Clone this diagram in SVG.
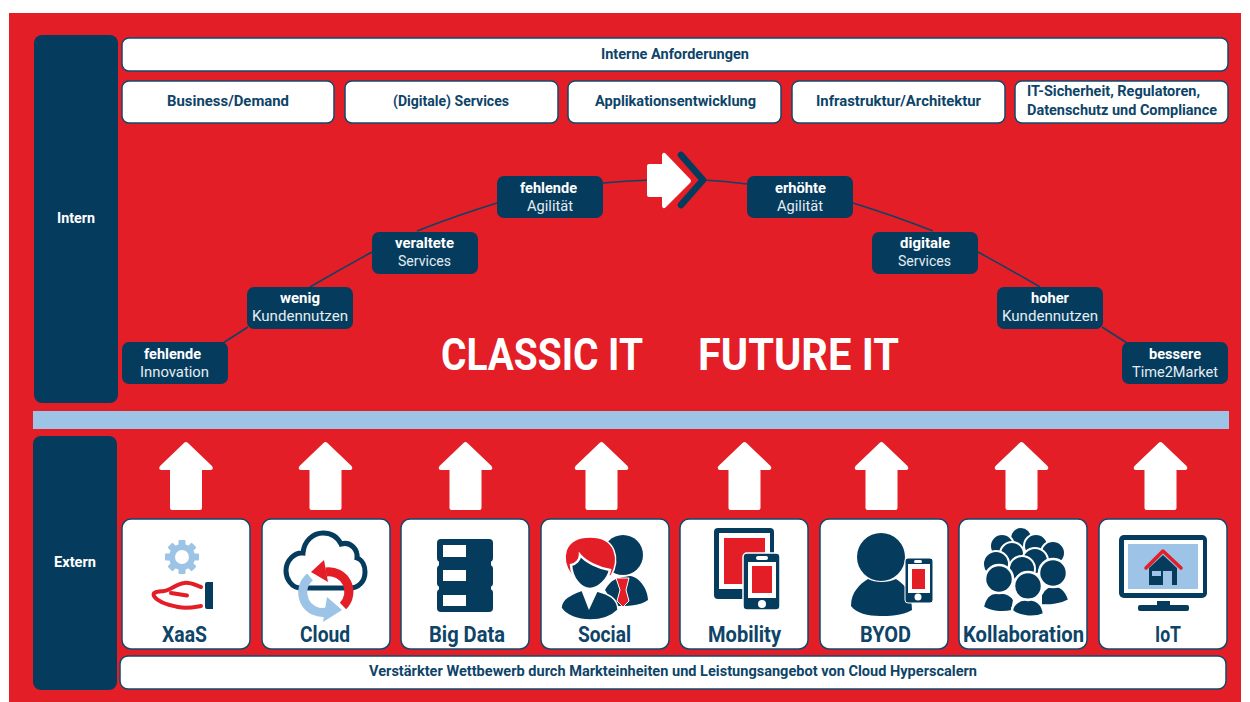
<svg xmlns="http://www.w3.org/2000/svg" width="1250" height="702" viewBox="0 0 1250 702">
<style>
text{font-family:Roboto,"Open Sans","Liberation Sans",sans-serif}
.d{fill:#053c5e}.r{fill:#e31e26}.b{fill:#9dc3e6}.w{fill:#fff}
.box{fill:#fff;stroke:#0f4a6e;stroke-width:1.5}
.side{fill:#053c5e}
.t{font-weight:700;font-size:14px;fill:#0d4468}
.sl{font-weight:700;font-size:14px;fill:#fff}
.nb{font-weight:700;font-size:14px;fill:#fff}
.nr{font-weight:400;font-size:14.5px;fill:#e4ecf2}
.big{font-weight:700;font-size:45px;fill:#fff}
.card{font-weight:700;font-size:21.5px;fill:#0d4468}
.conn{fill:none;stroke:#0c4367;stroke-width:1.5}
</style>
<defs>
<rect id="n" width="106" height="42" rx="7" class="d"/>
<path id="up" class="w" d="M-16 66Q-16 68-14 68H14Q16 68 16 66V28H25Q28 27 26 24L2 1Q0-1-2 1L-26 24Q-28 27-25 28H-16Z"/>
</defs>
<rect width="1250" height="702" fill="#fff"/>
<rect x="9" y="13" width="1232" height="689" class="r"/>

<g id="connectors">
<path class="conn" d="M223 343L248 327M310 287Q341 269 372 252M417 231Q455 216 497 203M603 183Q625 181 650 180"/>
<path class="conn" d="M1127 343L1102 327M1040 287Q1009 269 978 252M933 231Q895 216 853 203M747 184Q725 181 703 180"/>
</g>

<g id="intern"><rect x="34" y="35" width="84" height="368" rx="8" class="side"/><text class="sl" x="57" y="223" textLength="38" lengthAdjust="spacingAndGlyphs">Intern</text></g>
<g id="interne-anforderungen"><rect x="122" y="38" width="1106" height="33" rx="7" class="box"/><text class="t" x="601" y="59" textLength="148" lengthAdjust="spacingAndGlyphs">Interne Anforderungen</text></g>
<g id="business"><rect x="122" y="81" width="212" height="42" rx="7" class="box"/><text class="t" x="167" y="106" textLength="122" lengthAdjust="spacingAndGlyphs">Business/Demand</text></g>
<g id="services"><rect x="345" y="81" width="213" height="42" rx="7" class="box"/><text class="t" x="393" y="106" textLength="116" lengthAdjust="spacingAndGlyphs">(Digitale) Services</text></g>
<g id="appentw"><rect x="568" y="81" width="213" height="42" rx="7" class="box"/><text class="t" x="595" y="106" textLength="161" lengthAdjust="spacingAndGlyphs">Applikationsentwicklung</text></g>
<g id="infra"><rect x="792" y="81" width="213" height="42" rx="7" class="box"/><text class="t" x="816" y="106" textLength="165" lengthAdjust="spacingAndGlyphs">Infrastruktur/Architektur</text></g>
<g id="security"><rect x="1015" y="81" width="213" height="42" rx="7" class="box"/><text class="t" x="1027" y="96" textLength="173" lengthAdjust="spacingAndGlyphs">IT-Sicherheit, Regulatoren,</text><text class="t" x="1027" y="115" textLength="190" lengthAdjust="spacingAndGlyphs">Datenschutz und Compliance</text></g>

<g id="n-innovation"><use href="#n" x="122" y="342"/><text class="nb" x="144" y="359" textLength="57" lengthAdjust="spacingAndGlyphs">fehlende</text><text class="nr" x="140" y="377" textLength="69" lengthAdjust="spacingAndGlyphs">Innovation</text></g>
<g id="n-kundennutzen"><use href="#n" x="247" y="287"/><text class="nb" x="280" y="303" textLength="40" lengthAdjust="spacingAndGlyphs">wenig</text><text class="nr" x="252" y="321" textLength="96" lengthAdjust="spacingAndGlyphs">Kundennutzen</text></g>
<g id="n-services"><use href="#n" x="372" y="232"/><text class="nb" x="395" y="248" textLength="59" lengthAdjust="spacingAndGlyphs">veraltete</text><text class="nr" x="398" y="266" textLength="53" lengthAdjust="spacingAndGlyphs">Services</text></g>
<g id="n-agilitaet"><use href="#n" x="497" y="176"/><text class="nb" x="520" y="193" textLength="57" lengthAdjust="spacingAndGlyphs">fehlende</text><text class="nr" x="527" y="211" textLength="46" lengthAdjust="spacingAndGlyphs">Agilität</text></g>
<g id="f-agilitaet"><use href="#n" x="747" y="176"/><text class="nb" x="775" y="193" textLength="51" lengthAdjust="spacingAndGlyphs">erhöhte</text><text class="nr" x="777" y="211" textLength="46" lengthAdjust="spacingAndGlyphs">Agilität</text></g>
<g id="f-services"><use href="#n" x="872" y="232"/><text class="nb" x="900" y="248" textLength="50" lengthAdjust="spacingAndGlyphs">digitale</text><text class="nr" x="898" y="266" textLength="53" lengthAdjust="spacingAndGlyphs">Services</text></g>
<g id="f-kundennutzen"><use href="#n" x="997" y="287"/><text class="nb" x="1031" y="303" textLength="38" lengthAdjust="spacingAndGlyphs">hoher</text><text class="nr" x="1002" y="321" textLength="96" lengthAdjust="spacingAndGlyphs">Kundennutzen</text></g>
<g id="f-time"><use href="#n" x="1122" y="342"/><text class="nb" x="1149" y="359" textLength="52" lengthAdjust="spacingAndGlyphs">bessere</text><text class="nr" x="1132" y="377" textLength="86" lengthAdjust="spacingAndGlyphs">Time2Market</text></g>

<g id="pivot">
<path d="M681 155L703 180L681 205" fill="none" stroke="#053c5e" stroke-width="6.5" stroke-linecap="round" stroke-linejoin="round"/>
<path class="w" d="M649 164H662V155Q663 151 666 154L690 179Q692 181 690 183L666 207Q663 210 662 206V197H649Q647 197 647 195V166Q647 164 649 164Z"/>
</g>
<text class="big" x="441" y="370" textLength="202" lengthAdjust="spacingAndGlyphs">CLASSIC IT</text>
<text class="big" x="698" y="370" textLength="201" lengthAdjust="spacingAndGlyphs">FUTURE IT</text>

<rect id="band" x="33" y="411" width="1196" height="18" class="b"/>
<g id="extern"><rect x="33" y="436" width="84" height="254" rx="8" class="side"/><text class="sl" x="54" y="567" textLength="42" lengthAdjust="spacingAndGlyphs">Extern</text></g>

<g id="arrows">
<use href="#up" x="186" y="442"/><use href="#up" x="325.500" y="442"/><use href="#up" x="465.500" y="442"/><use href="#up" x="601.500" y="442"/><use href="#up" x="744.500" y="442"/><use href="#up" x="881.500" y="442"/><use href="#up" x="1021.500" y="442"/><use href="#up" x="1160.500" y="442"/>
</g>

<g id="xaas"><rect x="122" y="519" width="128" height="130" rx="9" class="box"/>
<g class="b"><circle cx="182" cy="557" r="13"/><rect x="178.500" y="540" width="7" height="34" rx="1"/><rect x="178.500" y="540" width="7" height="34" rx="1" transform="rotate(45 182 557)"/><rect x="178.500" y="540" width="7" height="34" rx="1" transform="rotate(90 182 557)"/><rect x="178.500" y="540" width="7" height="34" rx="1" transform="rotate(135 182 557)"/></g>
<circle cx="182" cy="557" r="7" class="w"/>
<path d="M201 587C195 585 190 582 184 583C176 584 171 590 164 591C157 592 152 592 154 596C157 601 168 605 178 607C188 609 195 607 201 606M171 593L187 595.500" fill="none" stroke="#e31e26" stroke-width="4" stroke-linecap="round" stroke-linejoin="round"/>
<path class="d" d="M205 584Q205 582 207 582H213V609H207Q205 609 205 607Z"/>
<text class="card" x="162" y="642" textLength="45" lengthAdjust="spacingAndGlyphs">XaaS</text></g>

<g id="cloud"><rect x="262" y="519" width="128" height="130" rx="9" class="box"/>
<path d="M301 588C291 588 286 578 286 571C286 560 295 552 303 553C304 541 313 533 323 533C332 533 338 538 341 544C351 541 358 550 357 558C363 560 365 567 365 572C365 582 358 588 350 588Z" fill="none" stroke="#053c5e" stroke-width="5"/>
<path d="M310 577A20 20 0 0 0 327 612" fill="none" stroke="#9dc3e6" stroke-width="9"/>
<polygon class="b" points="342,610 327,597 323,622"/>
<path d="M343 606A20 20 0 0 0 326 572" fill="none" stroke="#e31e26" stroke-width="9"/>
<polygon class="r" points="311,572 324,560 328,582"/>
<text class="card" x="300" y="642" textLength="50" lengthAdjust="spacingAndGlyphs">Cloud</text></g>

<g id="bigdata"><rect x="401" y="519" width="128" height="130" rx="9" class="box"/>
<rect x="439" y="555" width="52" height="40" class="d"/>
<rect x="437" y="539" width="56" height="23" rx="4" class="d"/><rect x="437" y="565" width="56" height="22" rx="4" class="d"/><rect x="437" y="589" width="56" height="23" rx="4" class="d"/>
<rect x="443" y="545" width="23" height="12" class="w"/><rect x="443" y="570" width="23" height="11" class="w"/><rect x="443" y="595" width="23" height="11" class="w"/>
<text class="card" x="429" y="642" textLength="76" lengthAdjust="spacingAndGlyphs">Big Data</text></g>

<g id="social"><rect x="541" y="519" width="128" height="130" rx="9" class="box"/>
<circle cx="623" cy="555" r="20" class="d"/>
<path class="d" d="M605 590C612 578 618 578 630 576C640 577 648 590 648 600C640 606 628 606 615 606Z"/>
<path d="M616 578L629 578L626 590L629 601L623 607L617 601L620 590Z" class="r" stroke="#fff" stroke-width="1"/>
<path class="r" stroke="#fff" stroke-width="1.500" d="M571 574C560 560 563 537 590 537C617 537 620 560 611 576Z"/>
<path class="d" stroke="#fff" stroke-width="2.500" d="M571 565C576 564 580 560 580 555C586 562 598 568 610 570C608 580 598 589 590 589C580 589 572 578 571 565Z"/>
<path class="d" stroke="#fff" stroke-width="1.500" d="M561 608C561 598 572 594 582 590L589 608L597 591C608 594 618 598 618 610C610 618 598 620 590 620C578 620 566 616 561 608Z"/>
<text class="card" x="578" y="642" textLength="53" lengthAdjust="spacingAndGlyphs">Social</text></g>

<g id="mobility"><rect x="680" y="519" width="128" height="130" rx="9" class="box"/>
<rect x="714" y="528" width="60" height="71" rx="4" class="d"/><rect x="719" y="533" width="51" height="56" class="w"/><rect x="724" y="538" width="41" height="46" class="r"/>
<rect x="743" y="553" width="37" height="57" rx="4" class="d" stroke="#fff" stroke-width="1.500"/><rect x="748" y="562" width="28" height="36" class="w"/><rect x="752" y="566" width="20" height="27" class="r"/>
<rect x="756" y="556" width="12" height="4" rx="2" class="w"/><circle cx="762" cy="604" r="4" class="w"/>
<text class="card" x="708" y="642" textLength="73" lengthAdjust="spacingAndGlyphs">Mobility</text></g>

<g id="byod"><rect x="820" y="519" width="128" height="130" rx="9" class="box"/>
<circle cx="881" cy="557" r="24" class="d"/>
<path class="d" d="M851 606C851 592 860 584 868 579C875 583 888 583 896 579C904 584 912 592 912 610C902 616 888 616 880 616C868 616 856 613 851 606Z"/>
<rect x="905" y="558" width="28" height="45" rx="3" class="d" stroke="#fff" stroke-width="1"/><rect x="908" y="564" width="22" height="29" class="w"/><rect x="912" y="569" width="13" height="20" class="r"/>
<rect x="914" y="560" width="8" height="3" rx="1.500" class="w"/><circle cx="918" cy="597" r="3.500" class="w"/>
<text class="card" x="860" y="642" textLength="51" lengthAdjust="spacingAndGlyphs">BYOD</text></g>

<g id="kollaboration"><rect x="959" y="519" width="128" height="130" rx="9" class="box"/>
<g class="d" stroke="#fff" stroke-width="2">
<circle cx="1021" cy="538" r="11"/><circle cx="1002" cy="546" r="12"/><circle cx="1036" cy="546" r="12"/><circle cx="1053" cy="553" r="12"/><circle cx="1012" cy="554" r="12"/><circle cx="1035" cy="561" r="13"/><circle cx="996" cy="564" r="13"/><circle cx="1022" cy="569" r="13"/>
<path d="M1041 595C1044 588 1050 585 1054 587C1060 585 1066 590 1069 600C1062 604 1050 606 1041 605Z"/>
<path d="M983 607C985 598 990 592 998 593C1005 592 1011 595 1014 600L1012 611C1002 613 990 612 983 607Z"/>
</g>
<g class="d" stroke="#fff" stroke-width="2.500">
<circle cx="999" cy="579" r="14"/><circle cx="1053" cy="573" r="14"/><circle cx="1028" cy="586" r="14"/>
<path d="M1012 611C1012 604 1020 598 1028 600C1036 598 1043 604 1044 614C1036 618 1020 618 1012 611Z"/>
</g>
<text class="card" x="963" y="642" textLength="121" lengthAdjust="spacingAndGlyphs">Kollaboration</text></g>

<g id="iot"><rect x="1099" y="519" width="128" height="130" rx="9" class="box"/>
<rect x="1119" y="535" width="88" height="63" rx="5" class="d"/><rect x="1124" y="540" width="79" height="53" class="w"/><rect x="1128" y="544" width="70" height="45" class="b"/>
<path class="d" d="M1149 585V568L1163 555L1177 568V585Z"/>
<rect x="1163" y="571" width="9" height="14" class="b"/><rect x="1152" y="571" width="9" height="5" class="b"/>
<polyline points="1146,568 1163,551 1181,568" fill="none" stroke="#e31e26" stroke-width="3.500" stroke-linecap="round" stroke-linejoin="round"/>
<rect x="1157" y="601" width="13" height="6" class="d"/><rect x="1138" y="605" width="51" height="6" rx="2" class="d"/>
<text class="card" x="1155" y="642" textLength="26" lengthAdjust="spacingAndGlyphs">IoT</text></g>

<g id="wettbewerb"><rect x="120" y="656" width="1106" height="33" rx="8" class="box"/><text class="t" x="369" y="676" textLength="608" lengthAdjust="spacingAndGlyphs">Verstärkter Wettbewerb durch Markteinheiten und Leistungsangebot von Cloud Hyperscalern</text></g>
</svg>
